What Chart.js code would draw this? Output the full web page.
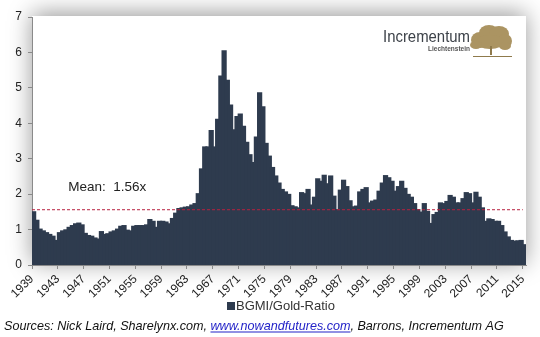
<!DOCTYPE html>
<html>
<head>
<meta charset="utf-8">
<script src="https://cdn.jsdelivr.net/npm/chart.js@4/dist/chart.umd.min.js"></script>
<style>
  html, body { margin: 0; padding: 0; background: #fff; }
  #wrap { width: 540px; height: 337px; }
</style>
</head>
<body>
<div id="wrap"><canvas id="ratioChart" width="540" height="337"></canvas></div>
<script>
// BGMI / Gold ratio, half-year readings (first half, second half of each year)
const years = [
  1939, 1940, 1941, 1942, 1943, 1944, 1945, 1946, 1947, 1948,
  1949, 1950, 1951, 1952, 1953, 1954, 1955, 1956, 1957, 1958,
  1959, 1960, 1961, 1962, 1963, 1964, 1965, 1966, 1967, 1968,
  1969, 1970, 1971, 1972, 1973, 1974, 1975, 1976, 1977, 1978,
  1979, 1980, 1981, 1982, 1983, 1984, 1985, 1986, 1987, 1988,
  1989, 1990, 1991, 1992, 1993, 1994, 1995, 1996, 1997, 1998,
  1999, 2000, 2001, 2002, 2003, 2004, 2005, 2006, 2007, 2008,
  2009, 2010, 2011, 2012, 2013, 2014, 2015
]
const ratioH1 = [
  1.49, 1.00, 0.90, 0.80, 0.90, 0.98, 1.10, 1.17, 0.88, 0.80,
  0.72, 0.85, 0.92, 1.00, 1.10, 0.95, 1.10, 1.10, 1.27, 1.05,
  1.22, 1.15, 1.45, 1.60, 1.63, 1.72, 2.70, 3.32, 3.32, 5.32,
  5.20, 3.80, 4.25, 3.45, 2.88, 4.85, 3.42, 2.74, 2.30, 2.05,
  1.66, 1.60, 2.00, 1.68, 2.42, 2.52, 2.50, 1.55, 2.38, 1.80,
  1.65, 2.12, 1.74, 1.82, 2.30, 2.45, 2.07, 2.35, 1.98, 1.72,
  1.48, 1.50, 1.41, 1.74, 1.78, 1.90, 1.74, 2.03, 1.74, 1.90,
  1.22, 1.27, 1.22, 0.92, 0.68, 0.67, 0.56
]
const ratioH2 = [
  1.25, 0.95, 0.85, 0.68, 0.95, 1.05, 1.15, 1.12, 0.82, 0.75,
  0.93, 0.87, 0.95, 1.08, 0.97, 1.08, 1.10, 1.12, 1.22, 1.22,
  1.20, 1.30, 1.58, 1.62, 1.68, 2.00, 3.32, 3.78, 4.10, 6.03,
  4.50, 4.18, 3.90, 3.10, 3.60, 4.45, 3.06, 2.50, 2.12, 1.98,
  1.63, 2.03, 2.12, 1.90, 2.35, 2.28, 1.93, 2.10, 2.20, 1.63,
  2.05, 2.17, 1.79, 2.07, 2.51, 2.35, 2.20, 2.15, 1.90, 1.55,
  1.72, 1.16, 1.47, 1.72, 1.95, 1.74, 1.86, 2.00, 2.04, 1.60,
  1.29, 1.22, 1.10, 0.78, 0.66, 0.68, null
]
const meanRatio = 1.56
const tickYears = [1939, 1943, 1947, 1951, 1955, 1959, 1963, 1967, 1971, 1975,
  1979, 1983, 1987, 1991, 1995, 1999, 2003, 2007, 2011, 2015]
const seriesName = 'BGMI/Gold-Ratio'

const barColor = '#2e3b4e'
const fontFam = 'Arial, "Liberation Sans", sans-serif'

let points = []
for (let i = 0; i < years.length; i++) {
  points.push({x: years[i] + 0.25, y: ratioH1[i]})
  if (ratioH2[i] !== null) points.push({x: years[i] + 0.75, y: ratioH2[i]})
}

// white panel with soft shadow behind the plot
const panelPlugin = {
  id: 'panel',
  beforeDraw(chart) {
    let ctx = chart.ctx
    let a = chart.chartArea
    ctx.save()
    ctx.fillStyle = '#fff'
    ctx.fillRect(0, 0, chart.width, chart.height)
    ctx.shadowColor = 'rgba(0,0,0,0.4)'
    ctx.shadowBlur = 22
    ctx.shadowOffsetY = -3
    ctx.fillRect(a.left, a.top - 1, a.right - a.left, a.bottom - a.top + 2)
    ctx.restore()
  }
}

// mean label, logo, legend and sources
const extrasPlugin = {
  id: 'extras',
  afterDraw(chart) {
    let ctx = chart.ctx
    let xs = chart.scales.x
    let ys = chart.scales.y
    ctx.save()

    ctx.fillStyle = '#222'
    ctx.font = '13.5px ' + fontFam
    ctx.textBaseline = 'middle'
    ctx.fillText('Mean:  ' + meanRatio.toFixed(2) + 'x', xs.getPixelForValue(1944.6), ys.getPixelForValue(2.2))

    // logo
    ctx.textBaseline = 'alphabetic'
    ctx.font = '17px ' + fontFam
    let w = ctx.measureText('Incrementum').width
    ctx.save()
    ctx.translate(383, 42)
    ctx.scale(87 / w, 1)
    ctx.fillStyle = '#3d4249'
    ctx.fillText('Incrementum', 0, 0)
    ctx.restore()
    ctx.font = 'bold 7px ' + fontFam
    let w2 = ctx.measureText('Liechtenstein').width
    ctx.save()
    ctx.translate(428, 51)
    ctx.scale(42 / w2, 1)
    ctx.fillStyle = '#555'
    ctx.fillText('Liechtenstein', 0, 0)
    ctx.restore()
    ctx.fillStyle = '#ab9462'
    let blobs = [[480, 40, 9, 8], [489, 33, 10, 8], [499, 34, 10, 8], [505, 41, 7, 7], [490, 42, 14, 7], [476, 45, 6, 4], [505, 46, 6, 4]]
    blobs.forEach(function(b) {
      ctx.beginPath()
      ctx.ellipse(b[0], b[1], b[2], b[3], 0, 0, Math.PI * 2)
      ctx.fill()
    })
    ctx.strokeStyle = '#8f7a4c'
    ctx.lineWidth = 2
    ctx.beginPath()
    ctx.moveTo(491, 46)
    ctx.lineTo(491, 55)
    ctx.stroke()
    ctx.lineWidth = 1
    ctx.beginPath()
    ctx.moveTo(473, 56.5)
    ctx.lineTo(512, 56.5)
    ctx.stroke()

    // legend
    ctx.fillStyle = barColor
    ctx.fillRect(227, 302, 8, 8)
    ctx.fillStyle = '#333'
    ctx.font = '13px ' + fontFam
    ctx.textBaseline = 'middle'
    ctx.fillText(seriesName, 236, 306.5)

    // sources
    ctx.textBaseline = 'alphabetic'
    ctx.font = 'italic 12.6px ' + fontFam
    let parts = [
      ['Sources: Nick Laird, Sharelynx.com, ', '#111', false],
      ['www.nowandfutures.com', '#2323c8', true],
      [', Barrons, Incrementum AG', '#111', false]
    ]
    let x = 4
    parts.forEach(function(p) {
      ctx.fillStyle = p[1]
      ctx.fillText(p[0], x, 330)
      let pw = ctx.measureText(p[0]).width
      if (p[2]) {
        ctx.fillRect(x, 331.5, pw, 1)
      }
      x += pw
    })
    ctx.restore()
  }
}

function ratioChart() {
  let ctx = document.querySelector('#ratioChart').getContext('2d')
  let chart = new Chart(ctx, {
    type: 'bar',
    data: {
      datasets: [{
        type: 'line',
        label: 'Mean',
        data: [{x: tickYears[0], y: meanRatio}, {x: tickYears[tickYears.length - 1], y: meanRatio}],
        borderColor: '#b8213f',
        borderWidth: 1,
        borderDash: [3, 2],
        pointRadius: 0,
        fill: false,
        order: 0
      }, {
        label: seriesName,
        data: points,
        backgroundColor: barColor,
        borderWidth: 0,
        inflateAmount: 1,
        barPercentage: 1,
        categoryPercentage: 1,
        order: 1
      }]
    },
    options: {
      responsive: false,
      animation: false,
      layout: {padding: {left: 0, right: 14, top: 17, bottom: 38}},
      plugins: {legend: {display: false}, tooltip: {enabled: false}},
      scales: {
        x: {
          type: 'linear',
          min: 1939,
          max: 2015.5,
          offset: false,
          afterBuildTicks: function(scale) {
            scale.ticks = tickYears.map(function(v) { return {value: v} })
          },
          afterFit: function(scale) { scale.height = 34 },
          grid: {display: true, drawOnChartArea: false, drawTicks: true, tickLength: 4, color: '#8a8a8a', offset: false},
          border: {display: true, color: '#8a8a8a'},
          ticks: {
            autoSkip: false,
            maxRotation: 45,
            minRotation: 45,
            padding: 3,
            color: '#222',
            font: {size: 12, family: fontFam},
            callback: function(v) { return String(v) }
          }
        },
        y: {
          min: 0,
          max: 7,
          afterFit: function(scale) { scale.width = 32 },
          grid: {display: true, drawOnChartArea: false, drawTicks: true, tickLength: 4, color: '#8a8a8a'},
          border: {display: true, color: '#8a8a8a'},
          ticks: {stepSize: 1, padding: 6, color: '#222', font: {size: 12, family: fontFam}}
        }
      }
    },
    plugins: [panelPlugin, extrasPlugin]
  })
}
ratioChart()
</script>
</body>
</html>
